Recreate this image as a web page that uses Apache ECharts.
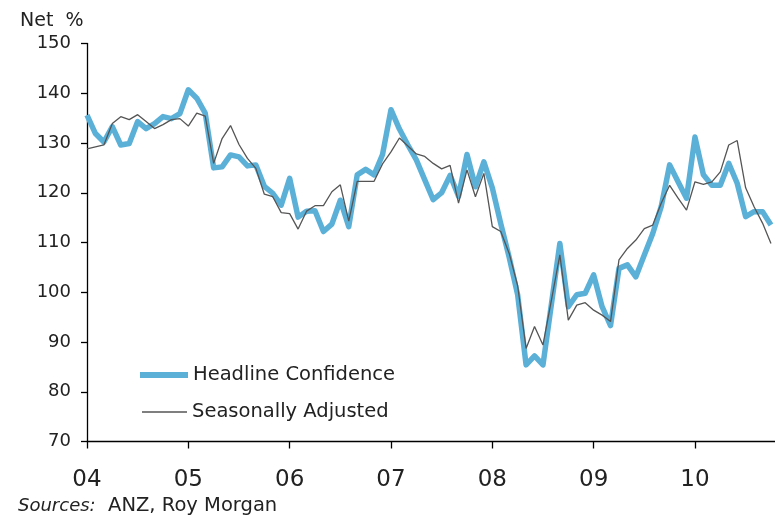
<!DOCTYPE html>
<html>
<head>
<meta charset="utf-8">
<script src="https://cdn.jsdelivr.net/npm/echarts@6/dist/echarts.min.js"></script>
<style>
html,body{margin:0;padding:0;background:#fff;}
#c{width:775px;height:517px;}
</style>
</head>
<body>
<div id="c"></div>
<script>
// Monthly, Jan 2004 (index 0) .. Oct 2010 (index 81)
const headline = [
135.6,131.9,130.2,133.3,129.6,129.9,134.3,132.9,133.9,135.3,134.9,135.9,
140.7,139.0,136.0,125.0,125.2,127.6,127.2,125.4,125.6,121.3,119.9,117.5,
122.9,115.1,116.3,116.4,112.2,113.7,118.5,113.2,123.6,124.7,123.6,127.7,
136.7,132.8,129.6,126.6,122.6,118.6,120.0,123.5,119.3,127.7,121.2,126.2,
121.0,113.8,107.0,99.5,85.4,87.2,85.4,97.6,109.8,97.1,99.5,99.8,
103.5,97.1,93.3,104.8,105.5,103.1,107.5,111.8,117.2,125.6,122.2,118.9,
131.2,123.6,121.5,121.5,125.9,121.9,115.2,116.2,116.2,113.5
];
const seasonal = [
128.8,129.2,129.6,133.9,135.3,134.7,135.7,134.3,132.9,133.7,134.7,134.9,
133.4,136.0,135.4,125.9,130.9,133.5,129.7,126.9,124.9,119.7,119.2,116.0,
115.8,112.7,116.3,117.4,117.4,120.2,121.6,114.3,122.3,122.3,122.3,125.8,
128.2,131.0,129.4,127.8,127.3,125.9,124.8,125.5,117.9,124.6,119.2,123.9,
113.2,112.2,107.8,101.3,88.7,93.1,89.4,98.4,107.5,94.4,97.4,97.9,
96.4,95.4,94.1,106.5,108.8,110.5,112.8,113.5,117.9,121.5,118.9,116.5,
122.2,121.7,122.2,124.2,129.6,130.5,121.0,117.2,113.9,109.8
];
const yearLabels = ['04','05','06','07','08','09','10'];
const yTicks = [70,80,90,100,110,120,130,140,150];
const seriesNames = ['Headline Confidence','Seasonally Adjusted'];
const yUnit = 'Net  %';
const sourceNote = ['Sources:', '  ANZ, Roy Morgan'];

const toPairs = arr => arr.map((v,i)=>[i,v]);
const font = 'DejaVu Sans, Verdana, sans-serif';

const chart = echarts.init(document.getElementById('c'), null, {renderer:'canvas'});
chart.setOption({
  animation:false,
  backgroundColor:'#fff',
  grid:{left:87, top:43.5, width:709.3, height:398, containLabel:false, outerBoundsMode:'none'},
  title:[
    {text:yUnit, left:15, top:7, textStyle:{fontFamily:font, fontSize:19, fontWeight:'normal', color:'#222'}},
    {text:'{i|'+sourceNote[0]+'}{n|'+sourceNote[1]+'}', left:13, top:491,
     textStyle:{fontWeight:'normal', rich:{
       i:{fontFamily:font, fontSize:18, fontStyle:'italic', fontWeight:'normal', color:'#222'},
       n:{fontFamily:font, fontSize:19.5, fontWeight:'normal', color:'#222'}
     }}}
  ],
  legend:[
    {data:[seriesNames[0]], left:140, top:365, padding:0, orient:'vertical', icon:'rect',
     itemWidth:48, itemHeight:6, itemGap:0,
     textStyle:{fontFamily:font, fontSize:19.5, color:'#222'}},
    {data:[seriesNames[1]], left:142, top:402, padding:0, orient:'vertical', icon:'rect',
     itemWidth:45, itemHeight:1.3, itemGap:0,
     textStyle:{fontFamily:font, fontSize:19.5, color:'#222'}}
  ],
  xAxis:{
    type:'value', min:0, max:84, interval:12,
    axisLine:{show:true, lineStyle:{color:'#000', width:1.3}},
    axisTick:{show:true, length:7, lineStyle:{color:'#000', width:1.3}},
    splitLine:{show:false},
    axisLabel:{
      margin:27, fontFamily:font, fontSize:23, color:'#222',
      formatter:v => (v%12===0 && v/12 < yearLabels.length) ? yearLabels[v/12] : ''
    }
  },
  yAxis:{
    type:'value', min:yTicks[0], max:yTicks[yTicks.length-1], interval:10,
    axisLine:{show:true, lineStyle:{color:'#000', width:1.3}},
    axisTick:{show:true, length:6, lineStyle:{color:'#000', width:1.3}},
    splitLine:{show:false},
    axisLabel:{margin:16, fontFamily:font, fontSize:18, color:'#222'}
  },
  series:[
    {name:seriesNames[0], type:'line', data:toPairs(headline), symbol:'none',
     lineStyle:{color:'#5bb0d8', width:5.5, join:'round'}, itemStyle:{color:'#5bb0d8'}, z:2},
    {name:seriesNames[1], type:'line', data:toPairs(seasonal), symbol:'none',
     lineStyle:{color:'#555', width:1.3}, itemStyle:{color:'#555'}, z:3}
  ]
});
</script>
</body>
</html>
